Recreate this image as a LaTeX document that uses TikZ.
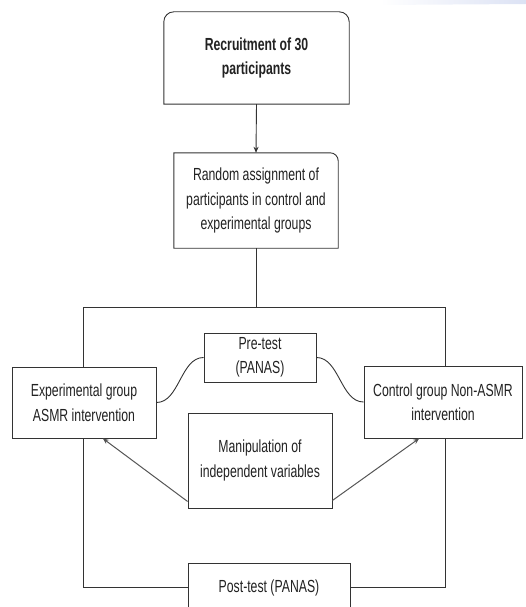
\documentclass[tikz,border=0pt]{standalone}
\usepackage{fontspec}
\setmainfont{Liberation Sans}[FakeStretch=0.70]
\usetikzlibrary{calc,arrows.meta}
\definecolor{linec}{HTML}{333333}
\definecolor{textc}{HTML}{222222}
\definecolor{arrowc}{HTML}{555555}
\definecolor{smear}{HTML}{DCE2F4}
\begin{document}
\begin{tikzpicture}[x=1pt,y=1pt,
  txt/.style={inner sep=0pt, align=center, text=textc,
    font=\fontsize{17.5}{24.5}\selectfont},
  boxnd/.style={txt, minimum width=#1},
  plainbox/.style={txt, draw=linec, line width=0.9pt, fill=white},
  conn/.style={draw=linec, line width=0.9pt},
  garrow/.style={draw=arrowc, line width=1pt, -{Stealth[length=6pt,width=5pt]}}
]
\useasboundingbox (0,0) rectangle (526,-607);
\shade[left color=white, right color=smear] (380,0) -- (526,0) -- (526,-4) -- (380,-5) -- cycle;

% big loop rectangle
\draw[conn] (83,-307) rectangle (445,-587);

% top box (top corners rounded)
\node[txt, minimum width=185pt, minimum height=92pt] (rec) at (256.5,-58)
  {\bfseries Recruitment of 30\\\bfseries participants};
\draw[conn, fill=white] (rec.south west) -- ([yshift=-10pt]rec.north west)
  arc[start angle=180,end angle=90,radius=10pt] -- ([xshift=-10pt]rec.north east)
  arc[start angle=90,end angle=0,radius=10pt] -- (rec.south east) -- cycle;
\node[txt, minimum width=185pt, minimum height=92pt] at (rec.center)
  {\bfseries Recruitment of 30\\\bfseries participants};

% random assignment box (top-right corner rounded)
\node[txt, minimum width=164pt, minimum height=95pt] (rand) at (256,-200.5)
  {Random assignment of\\participants in control and\\experimental groups};
\draw[conn, fill=white] (rand.south west) -- (rand.north west)
  -- ([xshift=-8pt]rand.north east)
  arc[start angle=90,end angle=0,radius=8pt] -- (rand.south east) -- cycle;
\node[txt] at (rand.center)
  {Random assignment of\\participants in control and\\experimental groups};

\draw[conn, -{Stealth[length=6pt,width=5pt]}] (rec.south) -- (rand.north);
\coordinate (looptop) at (256,-307);
\draw[conn] (rand.south) -- (looptop);

% side boxes
\node[plainbox, minimum width=144pt, minimum height=71pt] (exp) at (84,-402.5)
  {Experimental group\\ASMR intervention};
\node[plainbox, minimum width=158pt, minimum height=72pt] (ctrl) at (443,-402)
  {Control group Non-ASMR\\intervention};

% pre-test
\node[plainbox, minimum width=112pt, minimum height=49pt] (pre) at (260,-357.5)
  {Pre-test\\(PANAS)};
\draw[conn] (pre.west) to[out=180,in=0,looseness=0.9] (exp.east);
\draw[conn] (pre.east) to[out=0,in=180,looseness=0.9] (ctrl.west);

% manipulation
\node[plainbox, minimum width=144pt, minimum height=95pt] (man) at (260,-460.5)
  {Manipulation of\\independent variables};
\draw[garrow] ([yshift=7pt]man.south west) -- ($(exp.south west)!0.63!(exp.south east)$);
\draw[garrow] ([yshift=8pt]man.south east) -- ($(ctrl.south west)!0.35!(ctrl.south east)$);

% post-test
\node[plainbox, minimum width=162pt, minimum height=49pt] (post) at (269,-587.5)
  {Post-test (PANAS)};
\end{tikzpicture}
\end{document}
